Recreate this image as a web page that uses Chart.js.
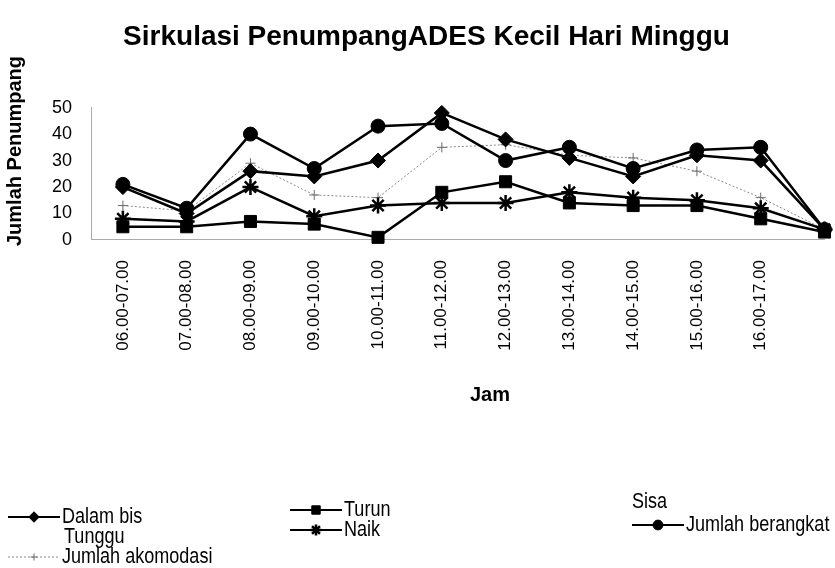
<!DOCTYPE html>
<html>
<head>
<meta charset="utf-8">
<script src="https://cdn.jsdelivr.net/npm/chart.js@4.4.1/dist/chart.umd.min.js"></script>
<style>
  html, body { margin: 0; padding: 0; background: #fff; }
</style>
</head>
<body>
<canvas id="chart" width="835" height="568"></canvas>
<script>
"use strict";

// jam (x categories); the last point has no visible label in the picture
const jam = ['06.00-07.00', '07.00-08.00', '08.00-09.00', '09.00-10.00', '10.00-11.00', '11.00-12.00',
             '12.00-13.00', '13.00-14.00', '14.00-15.00', '15.00-16.00', '16.00-17.00', ''];

const dalamBis        = [20, 10, 26, 24, 30, 48, 38, 31, 24, 32, 30, 4];
const turun           = [5, 5, 7, 6, 1, 18, 22, 14, 13, 13, 8, 3];
const sisa            = [];
const tunggu          = [];
const naik            = [8, 7, 20, 9, 13, 14, 14, 18, 16, 15, 12, 4];
const jumlahBerangkat = [21, 12, 40, 27, 43, 44, 30, 35, 27, 34, 35, 4];
const jumlahAkomodasi = [13, 11, 29, 17, 16, 35, 36, 32, 31, 26, 16, 4];

const yTicks = [0, 10, 20, 30, 40, 50];

const FONT = '"Liberation Sans", Arial, sans-serif';

function points(values) {
  return values.map(function(v, i) { return {x: i, y: v}; });
}

function series(label, values, style) {
  return Object.assign({
    label: label,
    data: points(values),
    borderColor: '#000',
    backgroundColor: '#000',
    pointBorderColor: '#000',
    pointBackgroundColor: '#000',
    borderWidth: 2.5,
    pointBorderWidth: 1,
    tension: 0,
    clip: false
  }, style);
}

// legend is laid out in three columns as in the original picture
const legendSlots = [
  {x: 8,   y: 517}, // Dalam bis
  {x: 290, y: 510}, // Turun
  {x: 576, y: 502}, // Sisa
  {x: 8,   y: 537}, // Tunggu
  {x: 290, y: 530}, // Naik
  {x: 632, y: 525}, // Jumlah berangkat
  {x: 8,   y: 557}  // Jumlah akomodasi
];
const NARROW = 0.82;

const extras = {
  id: 'extras',
  afterDraw(chart) {
    const ctx = chart.ctx;
    ctx.save();
    ctx.fillStyle = '#000';

    // axis titles
    ctx.font = 'bold 20px ' + FONT;
    ctx.textAlign = 'center';
    ctx.textBaseline = 'middle';
    ctx.fillText('Jam', 490, 395);
    ctx.save();
    ctx.translate(15, 151);
    ctx.rotate(-Math.PI / 2);
    ctx.fillText('Jumlah Penumpang', 0, 0);
    ctx.restore();

    // legend
    ctx.font = '22px ' + FONT;
    ctx.textAlign = 'left';
    chart.data.datasets.forEach(function(ds, i) {
      const slot = legendSlots[i];
      let tx = slot.x + 56;
      if (ds.data.length) {
        ctx.save();
        ctx.strokeStyle = ds.borderColor;
        ctx.lineWidth = Math.min(ds.borderWidth, 2);
        ctx.setLineDash(ds.borderDash || []);
        ctx.beginPath();
        ctx.moveTo(slot.x, slot.y);
        ctx.lineTo(slot.x + 52, slot.y);
        ctx.stroke();
        ctx.setLineDash([]);
        ctx.fillStyle = ds.pointBackgroundColor;
        ctx.strokeStyle = ds.pointBorderColor;
        ctx.lineWidth = ds.pointBorderWidth;
        Chart.helpers.drawPoint(ctx, {
          pointStyle: ds.pointStyle, rotation: 0,
          radius: ds.pointRadius * 0.7, borderWidth: ds.pointBorderWidth
        }, slot.x + 26, slot.y);
        ctx.restore();
        tx = slot.x + 54;
      }
      ctx.save();
      ctx.translate(tx, slot.y);
      ctx.scale(NARROW, 1);
      ctx.fillText(ds.label, 0, 0);
      ctx.restore();
    });
    ctx.restore();
  }
};

new Chart(document.getElementById('chart'), {
  type: 'line',
  data: {
    datasets: [
      series('Dalam bis', dalamBis, {pointStyle: 'rectRot', pointRadius: 7.5}),
      series('Turun', turun, {pointStyle: 'rect', pointRadius: 8.5}),
      series('Sisa', sisa, {pointRadius: 0}),
      series('Tunggu', tunggu, {pointRadius: 0}),
      series('Naik', naik, {pointStyle: 'star', pointRadius: 8, pointBorderWidth: 2.5}),
      series('Jumlah berangkat', jumlahBerangkat, {pointStyle: 'circle', pointRadius: 7}),
      series('Jumlah akomodasi', jumlahAkomodasi, {
        pointStyle: 'cross', pointRadius: 5, borderWidth: 1, pointBorderWidth: 1,
        borderColor: '#8a8a8a', pointBorderColor: '#6a6a6a', borderDash: [2, 2]
      })
    ]
  },
  options: {
    responsive: false,
    animation: false,
    devicePixelRatio: 1,
    layout: { padding: {left: 20, right: 2, top: 0, bottom: 0} },
    plugins: {
      legend: { display: false },
      tooltip: { enabled: false },
      title: {
        display: true,
        text: 'Sirkulasi PenumpangADES Kecil Hari Minggu',
        color: '#000',
        font: { family: FONT, size: 28, weight: 'bold', lineHeight: 1.2 },
        padding: { top: 20, bottom: 54 }
      }
    },
    scales: {
      x: {
        type: 'linear',
        min: -0.5,
        max: jam.length - 1,
        afterFit: function(scale) {
          scale.height = 568 - 240;
          scale.paddingLeft = 0;
          scale.paddingRight = 0;
        },
        grid: { display: false, drawTicks: false },
        border: { display: true, color: '#aaa', width: 1, dash: [2, 3] },
        ticks: {
          stepSize: 1,
          includeBounds: false,
          autoSkip: false,
          minRotation: 90,
          maxRotation: 90,
          padding: 20,
          color: '#000',
          font: { family: FONT, size: 17 },
          callback: function(v) { return Number.isInteger(v) ? jam[v] : ''; }
        }
      },
      y: {
        min: 0,
        max: 50,
        afterFit: function(scale) { scale.width = 71; },
        afterBuildTicks: function(scale) { scale.ticks = yTicks.map(function(v) { return {value: v}; }); },
        grid: { display: false, drawTicks: false },
        border: { display: true, color: '#aaa', width: 1, dash: [2, 3] },
        ticks: {
          padding: 19,
          color: '#000',
          font: { family: FONT, size: 18 }
        }
      }
    }
  },
  plugins: [extras]
});
</script>
</body>
</html>
